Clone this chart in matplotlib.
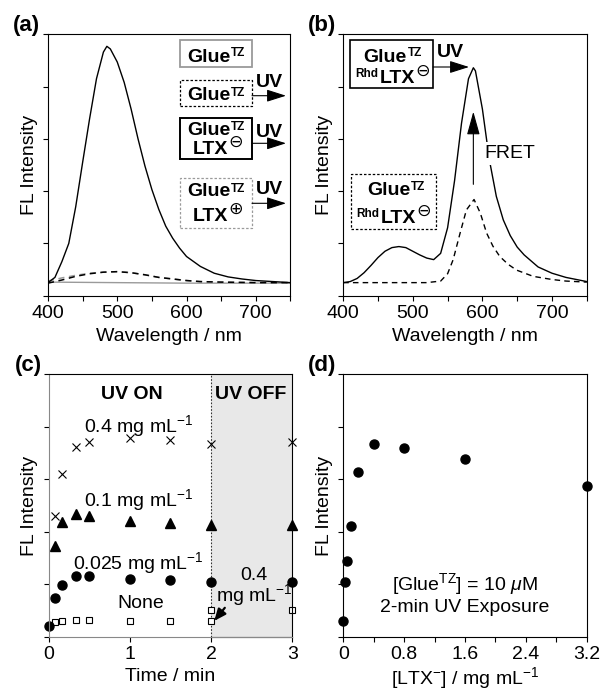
import matplotlib.pyplot as plt
from matplotlib.patches import Rectangle, FancyArrowPatch
import numpy as np

plt.rcParams['font.family'] = ['Liberation Sans', 'DejaVu Sans']
plt.rcParams['mathtext.fontset'] = 'custom'
plt.rcParams['mathtext.rm'] = 'Liberation Sans'
plt.rcParams['mathtext.it'] = 'Liberation Sans:italic'
plt.rcParams['mathtext.bf'] = 'Liberation Sans:bold'
plt.rcParams['font.size'] = 14
plt.rcParams['axes.linewidth'] = 0.8

# (a) spectra, Glue^TZ alone / after UV / with LTX- / with LTX+
wl_a = [400, 410, 420, 430, 440, 450, 460, 470, 480, 485, 490, 500, 510, 520, 530, 540,
        550, 560, 570, 580, 590, 600, 620, 640, 660, 680, 700, 725, 750]
fl_a_ltx_neg = [0.25, 0.35, 0.65, 1.0, 1.7, 2.55, 3.38, 4.15, 4.66, 4.77, 4.72, 4.47, 4.08,
                3.57, 3.0, 2.48, 2.03, 1.65, 1.33, 1.1, 0.91, 0.75, 0.56, 0.43, 0.36, 0.32,
                0.29, 0.27, 0.25]
wl_a_low = [400, 420, 440, 460, 480, 500, 520, 540, 560, 580, 600, 620, 650, 700, 750]
fl_a_uv = [0.24, 0.30, 0.37, 0.42, 0.45, 0.46, 0.44, 0.40, 0.35, 0.32, 0.29, 0.27, 0.26, 0.25, 0.25]
fl_a_ltx_pos = [0.28, 0.34, 0.39, 0.43, 0.45, 0.46, 0.44, 0.40, 0.35, 0.32, 0.29, 0.27, 0.26, 0.25, 0.25]
wl_a_dark = [400, 500, 600, 750]
fl_a_dark = [0.26, 0.25, 0.24, 0.24]

# (b) spectra with Rhd-labelled LTX-
wl_b = [400, 410, 420, 430, 440, 450, 460, 470, 480, 490, 500, 510, 520, 530, 540, 550, 560,
        570, 580, 587, 590, 600, 610, 620, 630, 640, 650, 660, 680, 700, 720, 750]
fl_b_uv = [0.25, 0.27, 0.33, 0.44, 0.58, 0.73, 0.85, 0.92, 0.94, 0.92, 0.85, 0.78, 0.72, 0.69,
           0.81, 1.3, 2.2, 3.3, 4.15, 4.36, 4.3, 3.57, 2.6, 1.9, 1.45, 1.15, 0.93, 0.78, 0.55,
           0.43, 0.35, 0.27]
wl_b_dark = [400, 520, 540, 550, 558, 568, 577, 588, 597, 606, 615, 625, 637, 649, 673, 700, 720, 750]
fl_b_dark = [0.25, 0.25, 0.28, 0.42, 0.69, 1.2, 1.64, 1.84, 1.58, 1.2, 0.95, 0.75, 0.6, 0.49,
             0.37, 0.31, 0.28, 0.26]

# (c) time course
t_sec = [0, 5, 10, 20, 30, 60, 90, 120, 180]
t_min = np.array(t_sec) / 60
nan = np.nan
fl_04 = [nan, 2.29, 3.10, 3.61, 3.71, 3.78, 3.75, 3.68, 3.71]
fl_01 = [nan, 1.72, 2.19, 2.33, 2.30, 2.20, 2.17, 2.13, 2.13]
fl_0025 = [0.20, 0.73, 0.99, 1.15, 1.15, 1.10, 1.08, 1.04, 1.04]
fl_none = [nan, 0.27, 0.29, 0.31, 0.31, 0.29, 0.29, 0.29, nan]
t_add = [2, 3]
fl_add = [0.51, 0.51]
uv_off = 2.0

# (d) LTX- concentration dependence
ltx_conc = [0, 0.025, 0.05, 0.1, 0.2, 0.4, 0.8, 1.6, 3.2]
fl_d = [0.29, 1.04, 1.45, 2.11, 3.13, 3.68, 3.60, 3.38, 2.87]

W, H = 600, 693
fig = plt.figure(figsize=(W / 100, H / 100), dpi=100)
ax_a = fig.add_axes([0.080, 0.5733, 0.404, 0.3772])
ax_b = fig.add_axes([0.572, 0.5733, 0.406, 0.3772])
ax_c = fig.add_axes([0.081, 0.0813, 0.406, 0.3786])
ax_d = fig.add_axes([0.572, 0.0813, 0.406, 0.3786])

for ax in (ax_a, ax_b, ax_c, ax_d):
    ax.set_ylim(0, 5)
    ax.set_yticks(range(6))
    ax.tick_params(direction='out', length=3.5, width=0.8, labelsize=14, labelleft=False)
    ax.tick_params(which='minor', direction='out', length=3.5, width=0.8)
    ax.set_ylabel('FL Intensity', fontsize=14, labelpad=4)


def px(x, y):
    # figure fraction from pixel position measured from the top-left corner
    return x / W, 1 - y / H


def box(x0, y0, x1, y1, ec, lw, ls='-'):
    fig.add_artist(Rectangle(px(x0, y1), (x1 - x0) / W, (y1 - y0) / H, transform=fig.transFigure,
                             fc='white', ec=ec, lw=lw, ls=ls, zorder=2))


def glue(xj, yb):
    fig.text(*px(xj, yb), 'Glue', fontsize=14, fontweight='bold', ha='right', va='baseline')
    fig.text(*px(xj + 0.5, yb - 5), 'TZ', fontsize=8.5, fontweight='bold', ha='left', va='baseline')


def ltx(xj, yb, sign, rhd=False):
    fig.text(*px(xj, yb), 'LTX', fontsize=14, fontweight='bold', ha='right', va='baseline')
    fig.text(*px(xj, yb - 12), sign, fontsize=12.5, family='DejaVu Sans',
             ha='left', va='center')
    if rhd:
        fig.text(*px(xj - 37, yb - 6.5), 'Rhd', fontsize=8.5, fontweight='bold',
                 ha='right', va='baseline')


def uv_arrow(x0, x1, y, xt, yt):
    fig.add_artist(FancyArrowPatch(px(x0, y), px(x1, y), transform=fig.transFigure,
                                   arrowstyle='-|>,head_length=0.85,head_width=0.27',
                                   color='black', lw=0.8, mutation_scale=14,
                                   shrinkA=0, shrinkB=0, zorder=3))
    fig.text(*px(xt, yt), 'UV', fontsize=14, fontweight='bold', ha='center', va='center')


gray = '#9a9a9a'
dots = (0, (2, 1.5))

# ---- (a)
ax_a.plot(wl_a_dark, fl_a_dark, color=gray, lw=1)
ax_a.plot(wl_a_low, fl_a_ltx_pos, color=gray, lw=1.1, ls=(0, (4, 3)))
ax_a.plot(wl_a_low, fl_a_uv, color='black', lw=1.1, ls=(0, (4, 3)))
ax_a.plot(wl_a, fl_a_ltx_neg, color='black', lw=1)
ax_a.set_xlim(400, 750)
ax_a.set_xticks([400, 500, 600, 700])
ax_a.set_xticks([450, 550, 650, 750], minor=True)
ax_a.set_xlabel('Wavelength / nm', fontsize=14)

box(180, 40, 252, 67, gray, 1.3)
glue(230, 61.5)
box(180, 80, 252, 106, 'black', 0.9, dots)
glue(230, 100.5)
uv_arrow(252, 286, 95.7, 269, 82.5)
box(180, 118, 252, 159, 'black', 1.4)
glue(230, 135)
ltx(228, 154, '\u2296')
uv_arrow(252, 286, 143.3, 269, 132.5)
box(180, 178, 252, 228, gray, 0.9, dots)
glue(230, 196.5)
ltx(228, 221, '\u2295')
uv_arrow(252, 286, 203.3, 269, 189)

# ---- (b)
ax_b.plot(wl_b_dark, fl_b_dark, color='black', lw=1, ls=(0, (4, 3)))
ax_b.plot(wl_b, fl_b_uv, color='black', lw=1)
ax_b.set_xlim(400, 750)
ax_b.set_xticks([400, 500, 600, 700])
ax_b.set_xticks([450, 550, 650, 750], minor=True)
ax_b.set_xlabel('Wavelength / nm', fontsize=14)

box(350, 40, 433, 88, 'black', 1.2)
glue(407, 61.5)
ltx(415, 83.3, '\u2296', rhd=True)
uv_arrow(433, 469, 67, 450, 52.5)
box(351, 174, 436, 229, 'black', 0.9, dots)
glue(410, 195)
ltx(416, 223.3, '\u2296', rhd=True)

ax_b.annotate('', xy=(587, 3.52), xytext=(587, 2.13),
              arrowprops=dict(arrowstyle='-|>,head_length=0.9,head_width=0.25', color='black',
                              lw=0.8, mutation_scale=16, shrinkA=0, shrinkB=0))
ax_b.text(640, 2.72, 'FRET', fontsize=14, ha='center', va='center',
          bbox=dict(boxstyle='square,pad=0.15', fc='white', ec='none'))

# ---- (c)
ax_c.axvspan(uv_off, 3, color='#e8e8e8', lw=0)
ax_c.axvline(uv_off, color='#333333', lw=0.8, ls=(0, (1.5, 1.5)))
ax_c.spines['left'].set_color('#888888')
ax_c.spines['left'].set_linestyle((0, (1.5, 1)))
ax_c.spines['bottom'].set_color('#888888')
ax_c.spines['bottom'].set_linestyle((0, (1.5, 1)))
ax_c.axhline(0, xmin=uv_off / 3, xmax=1, color='black', lw=0.8, clip_on=False)
ax_c.plot(t_min, fl_04, ls='none', marker='x', ms=6, mew=0.8, color='black', clip_on=False)
ax_c.plot(t_min, fl_01, ls='none', marker='^', ms=6.5, color='black', clip_on=False)
ax_c.plot(t_min, fl_none, ls='none', marker='s', ms=4.5, mfc='white', mec='black', mew=0.8, clip_on=False)
ax_c.plot(t_add, fl_add, ls='none', marker='s', ms=4.5, mfc='white', mec='black', mew=0.8, clip_on=False)
ax_c.plot(t_min, fl_0025, ls='none', marker='o', ms=6.5, color='black', clip_on=False)
ax_c.set_xlim(0, 3)
ax_c.set_xticks([0, 1, 2, 3])
ax_c.set_xlabel('Time / min', fontsize=14, labelpad=3)
ax_c.text(1.02, 4.62, 'UV ON', fontsize=14, fontweight='bold', ha='center', va='center')
ax_c.text(2.49, 4.62, 'UV OFF', fontsize=14, fontweight='bold', ha='center', va='center')
ax_c.text(1.11, 4.01, r'0.4 mg mL$^{-1}$', fontsize=14, ha='center', va='center')
ax_c.text(1.11, 2.60, r'0.1 mg mL$^{-1}$', fontsize=14, ha='center', va='center')
ax_c.text(1.11, 1.40, r'0.025 mg mL$^{-1}$', fontsize=14, ha='center', va='center')
ax_c.text(1.13, 0.64, 'None', fontsize=14, ha='center', va='center')
ax_c.text(2.53, 0.93, '0.4\n' + r'mg mL$^{-1}$', fontsize=14, ha='center', va='center',
          multialignment='center', linespacing=0.9)
ax_c.annotate('', xy=(2.04, 0.30), xytext=(2.17, 0.55),
              arrowprops=dict(arrowstyle='-|>,head_length=0.7,head_width=0.3', color='black',
                              lw=1.6, mutation_scale=10, shrinkA=0, shrinkB=0))

# ---- (d)
ax_d.plot(ltx_conc, fl_d, ls='none', marker='o', ms=6.5, color='black', clip_on=False)
ax_d.set_xlim(0, 3.2)
ax_d.set_xticks([0, 0.8, 1.6, 2.4, 3.2])
ax_d.set_xticklabels(['0', '0.8', '1.6', '2.4', '3.2'])
ax_d.set_xticks([0.4, 1.2, 2.0, 2.8], minor=True)
ax_d.set_xlabel(r'[LTX$^{-}$] / mg mL$^{-1}$', fontsize=14, labelpad=1)
ax_d.text(1.60, 0.82, r'[Glue$^{\mathrm{TZ}}$] = 10 $\mu$M' + '\n2-min UV Exposure',
          fontsize=14, ha='center', va='center', multialignment='center', linespacing=1.15)

for x, y, lab in [(13, 25.5, '(a)'), (308, 25.5, '(b)'), (15, 366, '(c)'), (308, 366, '(d)')]:
    fig.text(*px(x, y), lab, fontsize=16, fontweight='bold', ha='left', va='center')

fig.savefig('out.png', dpi=100)
